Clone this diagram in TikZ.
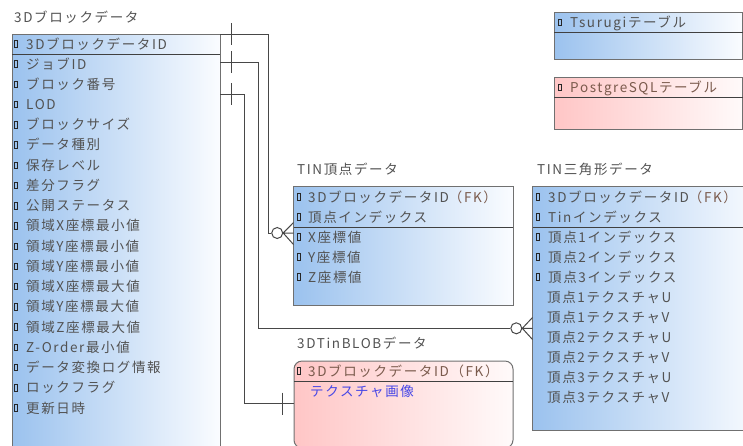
\documentclass[tikz,border=0pt]{standalone}
\usepackage{fontspec}
\setmainfont{Noto Sans CJK JP}[LetterSpace=12]
\definecolor{txtgray}{HTML}{525252}
\definecolor{fkbrown}{HTML}{7A5A4C}
\definecolor{blueL}{RGB}{155,194,238}
\definecolor{blueR}{RGB}{250,252,255}
\definecolor{pinkL}{RGB}{255,198,198}
\definecolor{pinkR}{RGB}{255,250,250}
\definecolor{bord}{HTML}{707070}
\definecolor{sepc}{HTML}{404040}
\definecolor{conncol}{HTML}{474747}
\definecolor{imgblue}{RGB}{70,70,230}
\begin{document}
\begin{tikzpicture}[x=1pt,y=-1pt,font=\fontsize{13.5}{15}\selectfont,
  tbox/.style={draw=bord,line width=1pt,anchor=north west,inner sep=0,outer sep=0},
  bluebox/.style={tbox,left color=blueL,right color=blueR},
  pinkbox/.style={tbox,left color=pinkL,right color=pinkR},
  sepline/.style={draw=sepc,line width=1pt},
  attr/.style={anchor=base west,inner sep=0,text=txtgray},
  ttl/.style={anchor=base west,inner sep=0,text=txtgray},
  icon/.style={draw=black!85,line width=0.8pt,minimum width=3pt,minimum height=6.5pt,inner sep=0},
  conn/.style={draw=conncol,line width=1pt},
  odot/.style={circle,draw=conncol,line width=1pt,minimum size=11pt,inner sep=0,fill=white}]
\useasboundingbox (0,0) rectangle (743,445);

% ---------- 3Dブロックデータ ----------
\node[ttl] (tblk) at (14,22) {3Dブロックデータ};
\node[bluebox,minimum width=208pt,minimum height=426pt] (blk) at (12,34) {};
\draw[sepline] (12,54) -- (220,54);
\node[icon] (bi0) at (16,44) {};
\node[attr] (b0) at (26,49) {3DブロックデータID};
\foreach \t [count=\i] in {ジョブID,ブロック番号,LOD,ブロックサイズ,データ種別,保存レベル,差分フラグ,公開ステータス,領域X座標最小値,領域Y座標最小値,領域Y座標最小値,領域X座標最大値,領域Y座標最大値,領域Z座標最大値,Z-Order最小値,データ変換ログ情報,ロックフラグ,更新日時}{
  \pgfmathsetmacro\yy{64+20.24*(\i-1)}
  \node[icon] (bi\i) at (16,\yy) {};
  \node[attr] (b\i) at (26,{\yy+5}) {\t};
}

% ---------- Tsurugi / PostgreSQL legend ----------
\node[bluebox,minimum width=188.5pt,minimum height=46.6pt] (tsu) at (554,12.7) {};
\draw[sepline] (554,32.3) -- (742.5,32.3);
\node[icon] (tsui) at (559.5,22.5) {};
\node[attr] (tsut) at (570,27.5) {Tsurugiテーブル};
\node[pinkbox,minimum width=188.5pt,minimum height=52pt] (pg) at (554,77.3) {};
\draw[sepline] (554,97.3) -- (742.5,97.3);
\node[icon] (pgi) at (559.5,87.5) {};
\node[attr,text=fkbrown] (pgt) at (570,92.5) {PostgreSQLテーブル};

% ---------- TIN頂点データ ----------
\node[ttl] (tvtx) at (297,174) {TIN頂点データ};
\node[bluebox,minimum width=219.5pt,minimum height=118.3pt] (vtx) at (293.5,186.7) {};
\draw[sepline] (293.5,227.3) -- (513,227.3);
\foreach \t [count=\i] in {{3DブロックデータID\textcolor{fkbrown}{（FK）}},頂点インデックス,X座標値,Y座標値,Z座標値}{
  \pgfmathsetmacro\yy{197+20*(\i-1)}
  \node[icon] (vi\i) at (298.5,\yy) {};
  \node[attr] (v\i) at (308,{\yy+5}) {\t};
}

% ---------- TIN三角形データ ----------
\node[ttl] (ttri) at (537,174) {TIN三角形データ};
\node[bluebox,minimum width=230pt,minimum height=243.3pt] (tri) at (532.5,186.7) {};
\draw[sepline] (532.5,227.3) -- (762,227.3);
\foreach \t [count=\i] in {{3DブロックデータID\textcolor{fkbrown}{（FK）}},Tinインデックス,頂点1インデックス,頂点2インデックス,頂点3インデックス}{
  \pgfmathsetmacro\yy{197+20*(\i-1)}
  \node[icon] (ti\i) at (537.5,\yy) {};
  \node[attr] (t\i) at (548,{\yy+5}) {\t};
}
\foreach \t [count=\i] in {頂点1テクスチャU,頂点1テクスチャV,頂点2テクスチャU,頂点2テクスチャV,頂点3テクスチャU,頂点3テクスチャV}{
  \pgfmathsetmacro\yy{297+20.1*(\i-1)}
  \node[attr] (tx\i) at (547,{\yy+5}) {\t};
}

% ---------- 3DTinBLOBデータ ----------
\node[ttl] (tblob) at (297,348) {3DTinBLOBデータ};
\node[pinkbox,rounded corners=8pt,minimum width=219pt,minimum height=87pt] (blob) at (294,361) {};
\draw[sepline] (294,381) -- (513,381);
\node[icon] (bli) at (298.5,371) {};
\node[attr,text=fkbrown] (bl1) at (308,376) {3DブロックデータID（FK）};
\node[attr,text=imgblue] (bl2) at (310,396) {テクスチャ画像};

% ---------- connectors ----------
\coordinate (s1) at (220,34);
\coordinate (k1) at (268,233);
\node[odot] (o1) at (277.2,233) {};
\coordinate (f1a) at (293.5,222.5);
\coordinate (f1b) at (293.5,233);
\coordinate (f1c) at (293.5,244.5);
\draw[conn] (s1) -| (k1) -- (o1.west);
\draw[conn] (o1.east) -- (f1a) (o1.east) -- (f1b) (o1.east) -- (f1c);

\coordinate (s2) at (220,62.3);
\coordinate (k2) at (258,328.3);
\node[odot] (o2) at (516.3,328.3) {};
\coordinate (f2a) at (532.5,317.5);
\coordinate (f2b) at (532.5,328.3);
\coordinate (f2c) at (532.5,339.5);
\draw[conn] (s2) -| (k2) -- (o2.west);
\draw[conn] (o2.east) -- (f2a) (o2.east) -- (f2b) (o2.east) -- (f2c);

\coordinate (s3) at (220,94.3);
\coordinate (k3) at (244,403.3);
\coordinate (e3) at (294,403.3);
\draw[conn] (s3) -| (k3) -- (e3);

% ticks
\coordinate (m1a) at (231.7,23); \coordinate (m1b) at (231.7,45);
\coordinate (m2a) at (231.7,51); \coordinate (m2b) at (231.7,73);
\coordinate (m3a) at (231.7,83); \coordinate (m3b) at (231.7,105);
\coordinate (m4a) at (282.7,392.5); \coordinate (m4b) at (282.7,414.5);
\draw[conn] (m1a) -- (m1b) (m2a) -- (m2b) (m3a) -- (m3b) (m4a) -- (m4b);
\end{tikzpicture}
\end{document}
